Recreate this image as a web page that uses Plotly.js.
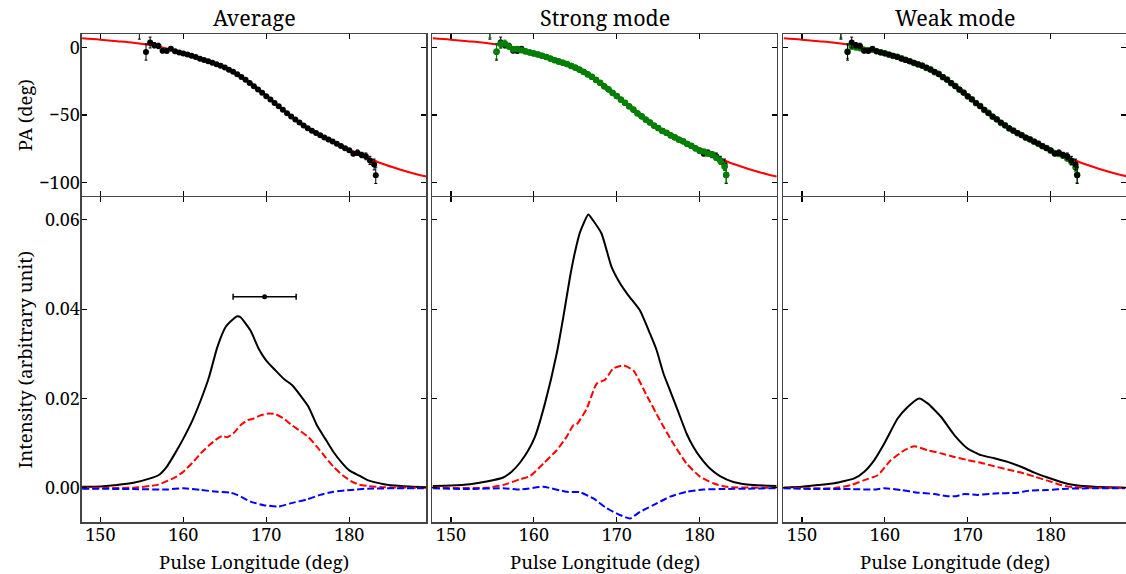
<!DOCTYPE html>
<html>
<head>
<meta charset="utf-8">
<script src="https://cdn.plot.ly/plotly-3.0.1.min.js"></script>
<style>html,body{margin:0;padding:0;background:#fff;}#chart{width:1126px;height:574px;}</style>
</head>
<body>
<div id="chart"></div>
<script>
// ---------- Data ----------
const panelTitles = ["Average", "Strong mode", "Weak mode"];
const xTickVals = [150, 160, 170, 180];
const paTickVals = [0, -50, -100];
const intTickVals = [0, 0.02, 0.04, 0.06];

// RVM fit curve (PA)
const fitLon = [147.8, 150, 152, 154, 156, 158, 160, 162, 164, 166, 168, 170, 172, 174, 176, 178, 180, 182, 184, 186, 188, 189.3];
const fitPA  = [6.6, 5.6, 4.5, 3.3, 1.6, -0.8, -4.2, -8.3, -12.8, -18.0, -25.5, -35.5, -46.0, -55.5, -63.3, -69.6, -75.3, -81.0, -86.0, -90.0, -93.5, -95.4];

// PA data longitudes
const paLon = [154.7, 155.5, 156.0, 156.5, 157.0, 157.5, 158.0, 158.5, 159.0, 159.5,
  160.0, 160.5, 161.0, 161.5, 162.0, 162.5, 163.0, 163.5, 164.0, 164.5,
  165.0, 165.5, 166.0, 166.5, 167.0, 167.5, 168.0, 168.5, 169.0, 169.5,
  170.0, 170.5, 171.0, 171.5, 172.0, 172.5, 173.0, 173.5, 174.0, 174.5,
  175.0, 175.5, 176.0, 176.5, 177.0, 177.5, 178.0, 178.5, 179.0, 179.5,
  180.0, 180.5, 181.0, 181.5, 182.0, 182.5, 183.0, 183.2];
// Average PA (black)
const avgPA = [13, -3.5, 3.5, 1.5, 1.0, -2.5, -2.8, -1.0, -3.0, -3.8,
  -4.6, -5.3, -6.2, -7.2, -8.4, -9.4, -10.4, -11.4, -12.5, -13.7,
  -15.0, -16.5, -18.1, -19.9, -21.9, -24.0, -26.3, -28.7, -31.1, -33.6,
  -36.1, -38.6, -41.1, -43.6, -46.1, -48.6, -51.0, -53.3, -55.6, -57.7,
  -59.7, -61.6, -63.3, -64.9, -66.5, -68.0, -69.5, -71.2, -72.8, -74.5,
  -76.0, -78.5, -77.8, -79.5, -80.5, -83.5, -86.5, -94.5];
const avgErr = [7, 6, 4, 2, 2, 1.5, 1, 1, 0.8, 0.6,
  0.4, 0.4, 0.4, 0.4, 0.4, 0.4, 0.4, 0.4, 0.4, 0.4,
  0.4, 0.4, 0.4, 0.4, 0.4, 0.4, 0.4, 0.4, 0.4, 0.4,
  0.4, 0.4, 0.4, 0.4, 0.4, 0.4, 0.4, 0.4, 0.4, 0.4,
  0.4, 0.4, 0.4, 0.4, 0.4, 0.4, 0.4, 0.4, 0.4, 0.4,
  1, 1.5, 2, 2, 2.5, 3, 4, 6];
// Strong mode PA (green)
const strongPA = [14, -3.2, 2.5, 2.8, 0.5, -1.5, -1.2, -2.2, -3.2, -3.9,
  -4.5, -5.4, -6.3, -7.1, -8.3, -9.5, -10.6, -11.4, -12.4, -13.8,
  -15.2, -16.4, -18.3, -20.0, -21.7, -24.2, -26.1, -28.9, -31.0, -33.8,
  -36.0, -38.8, -41.0, -43.8, -45.9, -48.8, -50.9, -53.5, -55.5, -57.9,
  -59.6, -61.8, -63.1, -65.1, -66.4, -68.2, -69.3, -71.4, -72.6, -74.7,
  -76.5, -77.0, -78.5, -79.0, -81.5, -84.0, -88.0, -94.0];
const strongErr = [7, 5.5, 3, 2.5, 2, 2, 1.5, 1, 0.8, 0.5,
  0.4, 0.4, 0.4, 0.4, 0.4, 0.4, 0.4, 0.4, 0.4, 0.4,
  0.4, 0.4, 0.4, 0.4, 0.4, 0.4, 0.4, 0.4, 0.4, 0.4,
  0.4, 0.4, 0.4, 0.4, 0.4, 0.4, 0.4, 0.4, 0.4, 0.4,
  0.4, 0.4, 0.4, 0.4, 0.4, 0.4, 0.4, 0.4, 0.4, 0.4,
  1, 1, 1.5, 2, 2, 2.5, 3, 6];
// Weak mode PA (green)
const weakPA = [13, -3.2, 1.0, 0.0, -0.8, -2.0, -2.2, -1.8, -3.0, -3.6,
  -4.4, -5.6, -6.4, -7.0, -8.1, -9.2, -10.3, -11.6, -12.8, -13.5,
  -15.3, -16.2, -18.5, -19.6, -22.2, -23.8, -26.6, -28.5, -31.4, -33.3,
  -36.3, -38.4, -41.3, -43.3, -46.3, -48.3, -51.2, -53.1, -55.8, -57.5,
  -59.9, -61.4, -63.5, -64.7, -66.7, -67.8, -69.8, -71.0, -73.0, -74.3,
  -76.3, -78.0, -78.8, -80.0, -82.0, -84.5, -88.5, -94.0];
const weakErr = [6, 5, 2.5, 2, 1.5, 1.5, 1, 1, 0.8, 0.5,
  0.4, 0.4, 0.4, 0.4, 0.4, 0.4, 0.4, 0.4, 0.4, 0.4,
  0.4, 0.4, 0.4, 0.4, 0.4, 0.4, 0.4, 0.4, 0.4, 0.4,
  0.4, 0.4, 0.4, 0.4, 0.4, 0.4, 0.4, 0.4, 0.4, 0.4,
  0.4, 0.4, 0.4, 0.4, 0.4, 0.4, 0.4, 0.4, 0.4, 0.4,
  1, 1, 1.5, 2, 2, 2.5, 3, 6];

// Average profile
const avgILon = [147.8, 150.0, 152.0, 154.0, 156.0, 157.0, 158.0, 159.0, 160.0, 161.1, 162.1, 163.1, 164.1, 165.1, 166.1, 166.5, 166.9, 168.1, 169.1, 170.0, 171.1, 172.1, 173.1, 174.1, 175.1, 176.1, 177.1, 178.1, 179.2, 180.0, 181.2, 182.2, 184.2, 186.2, 189.3];
const avgI = [0.0002, 0.0003, 0.0006, 0.0011, 0.0021, 0.0028, 0.0047, 0.0077, 0.0110, 0.0151, 0.0196, 0.0248, 0.0315, 0.0360, 0.0379, 0.0384, 0.0382, 0.0352, 0.0311, 0.0285, 0.0263, 0.0244, 0.0230, 0.0207, 0.0181, 0.0140, 0.0110, 0.0080, 0.0054, 0.0039, 0.0027, 0.0017, 0.0008, 0.0004, 0.0001];
const avgLLon = [147.8, 154.0, 156.0, 157.0, 158.0, 159.0, 160.0, 161.1, 162.1, 163.1, 164.1, 164.7, 165.3, 166.1, 166.9, 167.7, 168.5, 169.3, 170.1, 171.1, 172.1, 173.1, 174.1, 175.1, 176.1, 177.1, 178.1, 179.2, 180.2, 181.2, 182.2, 184.2, 189.3];
const avgL = [0.0, 0.0, 0.0004, 0.0007, 0.0015, 0.0023, 0.0036, 0.0056, 0.0077, 0.0095, 0.0110, 0.0116, 0.0113, 0.0123, 0.0140, 0.0151, 0.0155, 0.0162, 0.0166, 0.0165, 0.0155, 0.0140, 0.0127, 0.0113, 0.0092, 0.0069, 0.0047, 0.0028, 0.0015, 0.0007, 0.0004, 0.0001, 0.0];
const avgVLon = [147.8, 154.0, 158.0, 160.0, 162.1, 164.1, 165.7, 166.5, 168.1, 169.7, 171.5, 172.9, 174.9, 176.5, 178.1, 180.2, 182.2, 189.3];
const avgV = [-0.0002, -0.0003, -0.0004, -0.0001, -0.0005, -0.0009, -0.0011, -0.0016, -0.0031, -0.0039, -0.0042, -0.0035, -0.0026, -0.0016, -0.0009, -0.0005, -0.0002, -0.0001];

// Strong mode profile
const strongILon = [147.79, 150.00, 152.29, 154.30, 156.31, 157.32, 158.32, 159.33, 160.13, 161.34, 162.75, 163.55, 164.36, 164.96, 165.56, 166.57, 167.17, 168.17, 169.38, 170.39, 171.39, 172.80, 174.01, 174.81, 175.61, 176.42, 177.42, 178.43, 179.23, 180.04, 181.24, 182.45, 184.06, 186.47, 189.28];
const strongI = [0.0004, 0.0005, 0.0008, 0.0014, 0.0023, 0.0036, 0.0056, 0.0084, 0.0114, 0.0189, 0.0300, 0.0382, 0.0472, 0.0528, 0.0572, 0.0612, 0.0598, 0.0569, 0.0494, 0.0458, 0.0431, 0.0397, 0.0345, 0.0308, 0.0257, 0.0218, 0.0170, 0.0121, 0.0092, 0.0069, 0.0043, 0.0026, 0.0013, 0.0006, 0.0004];
const strongLLon = [147.79, 154.30, 156.31, 158.32, 159.53, 161.14, 162.75, 163.95, 164.76, 165.16, 166.37, 167.57, 168.58, 169.58, 170.79, 171.99, 173.60, 175.21, 176.82, 178.43, 180.04, 181.64, 183.25, 189.28];
const strongL = [0.0, 0.0, 0.0006, 0.0019, 0.0026, 0.0054, 0.0084, 0.0114, 0.0140, 0.0142, 0.0177, 0.0233, 0.0242, 0.0267, 0.0274, 0.0263, 0.0207, 0.0151, 0.0099, 0.0054, 0.0025, 0.0010, 0.0002, 0.0];
const strongVLon = [147.79, 152.29, 156.31, 158.32, 161.14, 163.95, 165.56, 167.17, 168.78, 170.39, 171.59, 172.80, 174.41, 176.42, 178.43, 180.44, 182.45, 189.28];
const strongV = [-0.0001, -0.0003, -0.0001, -0.0004, 0.0002, -0.0009, -0.0010, -0.0024, -0.0046, -0.0061, -0.0069, -0.0054, -0.0039, -0.0020, -0.0009, -0.0004, -0.0003, -0.0001];

// Weak mode profile
const weakILon = [147.75, 150.00, 151.89, 153.90, 156.31, 157.52, 158.73, 159.93, 161.54, 162.75, 164.15, 165.16, 166.77, 168.38, 169.98, 171.59, 173.20, 174.81, 176.42, 178.03, 179.63, 181.24, 182.85, 185.26, 189.00];
const weakI = [0.0000, 0.0002, 0.0006, 0.0010, 0.0021, 0.0036, 0.0062, 0.0099, 0.0155, 0.0181, 0.0200, 0.0189, 0.0159, 0.0118, 0.0088, 0.0073, 0.0066, 0.0058, 0.0047, 0.0034, 0.0023, 0.0013, 0.0006, 0.0002, 0.0000];
const weakLLon = [147.75, 153.90, 155.91, 157.52, 159.13, 160.74, 162.35, 163.55, 165.16, 166.77, 168.38, 169.98, 171.59, 173.20, 174.81, 176.42, 178.03, 179.63, 181.24, 182.85, 189.00];
const weakL = [0.0, -0.0001, 0.0006, 0.0017, 0.0028, 0.0062, 0.0084, 0.0093, 0.0084, 0.0077, 0.0069, 0.0062, 0.0056, 0.0048, 0.0041, 0.0034, 0.0025, 0.0016, 0.0006, 0.0001, 0.0];
const weakVLon = [147.75, 151.89, 155.91, 158.73, 159.93, 161.94, 163.95, 165.96, 167.57, 168.58, 169.58, 171.19, 173.20, 176.02, 177.23, 179.63, 182.04, 189.00];
const weakV = [-0.0001, -0.0003, -0.0003, -0.0004, -0.0001, -0.0005, -0.0011, -0.0014, -0.0019, -0.0019, -0.0014, -0.0016, -0.0013, -0.0011, -0.0007, -0.0005, -0.0002, -0.0001];

// Component-width marker (average panel)
const markLon = [169.8];
const markI = [0.0428];
const markHalfWidth = [3.8];

// ---------- Figure ----------
const W = 1126, H = 574;
const FONT = 'Noto Serif';
const GREEN = '#008000';
const DASH = '7px,3px';
const TITLE_SIZE = 21.5, LABEL_SIZE = 18.5, TICK_SIZE = 18;

const panelsPx = [[81.7, 426.3], [432.3, 776.7], [783.3, 1126]];
const xRanges = [[147.75, 189.29], [147.75, 189.29], [147.75, 189.09]];
const topPx = [34, 196.05], botPx = [197.35, 522.3];
const fx = p => p / W, fy = p => 1 - p / H;

const traces = [];
function pa(i, lon, vals, errs, color, size) {
  traces.push({x: lon, y: vals, type: 'scatter', mode: 'markers',
    xaxis: 'x' + (i === 0 ? '' : i + 1), yaxis: 'y' + (i === 0 ? '' : i + 1),
    marker: {color: color, size: size},
    error_y: {type: 'data', array: errs, color: color, thickness: 1, width: 1.5},
    showlegend: false, hoverinfo: 'skip'});
}
function fit(i) {
  traces.push({x: fitLon, y: fitPA, type: 'scatter', mode: 'lines',
    xaxis: 'x' + (i === 0 ? '' : i + 1), yaxis: 'y' + (i === 0 ? '' : i + 1),
    line: {color: '#ff0000', width: 2, shape: 'spline'}, showlegend: false, hoverinfo: 'skip'});
}
function prof(i, lon, vals, color, dash) {
  traces.push({x: lon, y: vals, type: 'scatter', mode: 'lines',
    xaxis: 'x' + (i + 4), yaxis: 'y' + (i + 4),
    line: {color: color, width: 2, dash: dash, shape: 'spline', smoothing: 0.5},
    showlegend: false, hoverinfo: 'skip'});
}

fit(0); pa(0, paLon, avgPA, avgErr, '#000000', 6);
fit(1); pa(1, paLon, avgPA, avgErr, '#000000', 6); pa(1, paLon, strongPA, strongErr, GREEN, 6.5);
fit(2); pa(2, paLon, weakPA, weakErr, GREEN, 6.5); pa(2, paLon, avgPA, avgErr, '#000000', 6);

prof(0, avgILon, avgI, '#000000', 'solid');
prof(0, avgLLon, avgL, '#ff0000', DASH);
prof(0, avgVLon, avgV, '#0000ff', DASH);
prof(1, strongILon, strongI, '#000000', 'solid');
prof(1, strongLLon, strongL, '#ff0000', DASH);
prof(1, strongVLon, strongV, '#0000ff', DASH);
prof(2, weakILon, weakI, '#000000', 'solid');
prof(2, weakLLon, weakL, '#ff0000', DASH);
prof(2, weakVLon, weakV, '#0000ff', DASH);

traces.push({x: markLon, y: markI, type: 'scatter', mode: 'markers', xaxis: 'x4', yaxis: 'y4',
  marker: {color: '#000000', size: 5},
  error_x: {type: 'data', array: markHalfWidth, color: '#000000', thickness: 1.5, width: 3},
  showlegend: false, hoverinfo: 'skip'});

const layout = {
  width: W, height: H, margin: {l: 0, r: 0, t: 0, b: 0},
  paper_bgcolor: '#ffffff', plot_bgcolor: '#ffffff',
  font: {family: FONT, color: '#000000', size: TICK_SIZE},
  showlegend: false, annotations: []
};
const baseAxis = {
  showline: true, linecolor: '#444444', linewidth: 1.3, mirror: 'ticks',
  ticks: 'inside', ticklen: 5, tickwidth: 1.2, tickcolor: '#000000',
  showgrid: false, zeroline: false, fixedrange: true,
  tickfont: {family: FONT, size: TICK_SIZE, color: '#000000'}
};
for (let i = 0; i < 3; i++) {
  const dx = [fx(panelsPx[i][0]), fx(panelsPx[i][1])];
  const tn = i === 0 ? '' : String(i + 1);
  const bn = String(i + 4);
  layout['xaxis' + tn] = Object.assign({}, baseAxis, {domain: dx, range: xRanges[i],
    tickvals: xTickVals, showticklabels: false, anchor: 'y' + tn});
  layout['yaxis' + tn] = Object.assign({}, baseAxis, {domain: [fy(topPx[1]), fy(topPx[0])],
    range: [-109.8, 9.8], tickvals: paTickVals, showticklabels: i === 0, anchor: 'x' + tn,
    ticklabelstandoff: -3});
  layout['xaxis' + bn] = Object.assign({}, baseAxis, {domain: dx, range: xRanges[i],
    tickvals: xTickVals, showticklabels: true, anchor: 'y' + bn, ticklabelstandoff: -4});
  layout['yaxis' + bn] = Object.assign({}, baseAxis, {domain: [fy(botPx[1]), fy(botPx[0])],
    range: [-0.00774, 0.06505], tickvals: intTickVals, tickformat: '.2f',
    showticklabels: i === 0, anchor: 'x' + bn, ticklabelstandoff: -3});
  const cx = fx((panelsPx[i][0] + panelsPx[i][1]) / 2);
  layout.annotations.push({text: panelTitles[i], xref: 'paper', yref: 'paper', x: cx, y: fy(18),
    xanchor: 'center', yanchor: 'middle', showarrow: false, font: {family: FONT, size: TITLE_SIZE, color: '#000000'}});
  layout.annotations.push({text: 'Pulse Longitude (deg)', xref: 'paper', yref: 'paper', x: cx, y: fy(561),
    xanchor: 'center', yanchor: 'middle', showarrow: false, font: {family: FONT, size: LABEL_SIZE, color: '#000000'}});
}
layout.annotations.push({text: 'PA (deg)', xref: 'paper', yref: 'paper', x: fx(24), y: fy(115.3),
  xanchor: 'center', yanchor: 'middle', textangle: -90, showarrow: false, font: {family: FONT, size: LABEL_SIZE, color: '#000000'}});
layout.annotations.push({text: 'Intensity (arbitrary unit)', xref: 'paper', yref: 'paper', x: fx(24), y: fy(359.5),
  xanchor: 'center', yanchor: 'middle', textangle: -90, showarrow: false, font: {family: FONT, size: LABEL_SIZE, color: '#000000'}});

Plotly.newPlot('chart', traces, layout, {staticPlot: true, displayModeBar: false});
</script>
</body>
</html>
